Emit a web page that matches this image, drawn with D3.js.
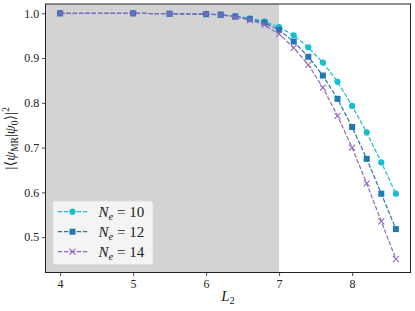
<!DOCTYPE html>
<html><head><meta charset="utf-8">
<script src="https://cdn.jsdelivr.net/npm/d3@7"></script>
<style>body{margin:0;background:#fff;}svg{display:block;}text{font-family:"Liberation Serif","DejaVu Serif",serif;fill:#222;}</style>
</head><body>
<script>
const L2 = [4, 5, 5.5, 6, 6.2, 6.4, 6.6, 6.8, 7.0, 7.2, 7.4, 7.6, 7.8, 8.0, 8.2, 8.4, 8.6];
const ne10 = [1.000, 1.000, 0.999, 0.999, 0.997, 0.993, 0.989, 0.982, 0.969, 0.951, 0.924, 0.890, 0.847, 0.793, 0.734, 0.667, 0.597];
const ne12 = [1.000, 1.000, 0.999, 0.998, 0.997, 0.993, 0.987, 0.979, 0.963, 0.937, 0.903, 0.861, 0.809, 0.746, 0.675, 0.597, 0.518];
const ne14 = [1.000, 1.000, 0.999, 0.998, 0.996, 0.992, 0.985, 0.974, 0.954, 0.923, 0.885, 0.834, 0.771, 0.700, 0.620, 0.535, 0.451];
const seriesNames = ["10", "12", "14"];
const xTicks = [4, 5, 6, 7, 8];
const yTicks = [0.5, 0.6, 0.7, 0.8, 0.9, 1.0];
const shadeEnd = 7;

const W = 415, H = 311;
const m = {l: 45.5, r: 4.5, t: 4, b: 38.5};
const svg = d3.select("body").append("svg").attr("width", W).attr("height", H);
const x = d3.scaleLinear().domain([3.8, 8.8]).range([m.l, W - m.r]);
const y = d3.scaleLinear().domain([0.421, 1.0208]).range([H - m.b, m.t]);

svg.append("rect").attr("x", x(3.8)).attr("y", m.t).attr("width", x(shadeEnd) - x(3.8))
  .attr("height", H - m.b - m.t).attr("fill", "#d3d3d3");

const series = [
  {vals: ne10, color: "#17becf", marker: "circle"},
  {vals: ne12, color: "#1f77b4", marker: "square"},
  {vals: ne14, color: "#9467bd", marker: "x"}
];
const line = d3.line().x(d => x(d[0])).y(d => y(d[1]));

function drawMarker(g, type, cx, cy, color) {
  if (type === "circle") g.append("circle").attr("cx", cx).attr("cy", cy).attr("r", 3.1).attr("fill", color);
  else if (type === "square") g.append("rect").attr("x", cx - 3).attr("y", cy - 3).attr("width", 6).attr("height", 6).attr("fill", color);
  else {
    const s = 3;
    g.append("path").attr("d", `M${cx-s},${cy-s}L${cx+s},${cy+s}M${cx-s},${cy+s}L${cx+s},${cy-s}`)
      .attr("stroke", color).attr("stroke-width", 1.1).attr("fill", "none");
  }
}

series.forEach(s => {
  const pts = L2.map((v, i) => [v, s.vals[i]]);
  const g = svg.append("g");
  g.append("path").attr("d", line(pts)).attr("fill", "none").attr("stroke", s.color)
    .attr("stroke-width", 1.2).attr("stroke-dasharray", "4.4,1.9");
  pts.forEach(p => drawMarker(g, s.marker, x(p[0]), y(p[1]), s.color));
});

// axes
const xAxis = svg.append("g").attr("transform", `translate(0,${H - m.b})`)
  .call(d3.axisBottom(x).tickValues(xTicks).tickFormat(d3.format("d")).tickSize(3.5).tickPadding(3.5));
const yAxis = svg.append("g").attr("transform", `translate(${m.l},0)`)
  .call(d3.axisLeft(y).tickValues(yTicks).tickFormat(d3.format(".1f")).tickSize(3.5).tickPadding(2.8));
[xAxis, yAxis].forEach(a => {
  a.attr("font-family", null).attr("font-size", null);
  a.select(".domain").remove();
  a.selectAll("line").attr("stroke", "#222").attr("stroke-width", 0.8);
  a.selectAll("text").style("font-size", "12px").attr("fill", "#333").style("font-family", '"Liberation Serif",serif');
});
svg.append("rect").attr("x", m.l).attr("y", m.t).attr("width", W - m.r - m.l).attr("height", H - m.b - m.t)
  .attr("fill", "none").attr("stroke", "#222").attr("stroke-width", 1);

// x label
const xl = svg.append("text").attr("x", (m.l + W - m.r) / 2).attr("y", 301).attr("text-anchor", "middle").attr("font-size", "15px");
xl.append("tspan").attr("font-style", "italic").text("L");
xl.append("tspan").attr("font-size", "10.5px").attr("dy", 3).text("2");

// y label
const yl = svg.append("text").attr("transform", `translate(15,${(m.t + H - m.b) / 2}) rotate(-90)`)
  .attr("text-anchor", "middle").attr("font-size", "14.5px");
yl.append("tspan").text("|⟨");
yl.append("tspan").attr("font-style", "italic").text("ψ");
yl.append("tspan").attr("font-size", "9.5px").attr("dy", 3).text("MR");
yl.append("tspan").attr("dy", -3).text("|");
yl.append("tspan").attr("font-style", "italic").text("ψ");
yl.append("tspan").attr("font-size", "9.5px").attr("dy", 3).text("0");
yl.append("tspan").attr("dy", -3).text("⟩|");
yl.append("tspan").attr("font-size", "9.5px").attr("dy", -6).text("2");

// legend
const lg = svg.append("g");
lg.append("rect").attr("x", 53).attr("y", 201).attr("width", 100).attr("height", 63.5).attr("rx", 2.5)
  .attr("fill", "#f5f5f5").attr("fill-opacity", 0.95).attr("stroke", "#e0e0e0").attr("stroke-width", 0.8);
series.forEach((s, i) => {
  const cy = 211.7 + i * 20;
  lg.append("line").attr("x1", 57.7).attr("x2", 87.3).attr("y1", cy).attr("y2", cy)
    .attr("stroke", s.color).attr("stroke-width", 1.2).attr("stroke-dasharray", "4.4,1.9");
  drawMarker(lg, s.marker, 72.5, cy, s.color);
  const t = lg.append("text").attr("x", 98.5).attr("y", cy + 5).attr("font-size", "15px");
  t.append("tspan").attr("font-style", "italic").text("N");
  t.append("tspan").attr("font-style", "italic").attr("font-size", "10.5px").attr("dy", 3).text("e");
  t.append("tspan").attr("dy", -3).text(" = " + seriesNames[i]);
});
</script>
</body></html>
